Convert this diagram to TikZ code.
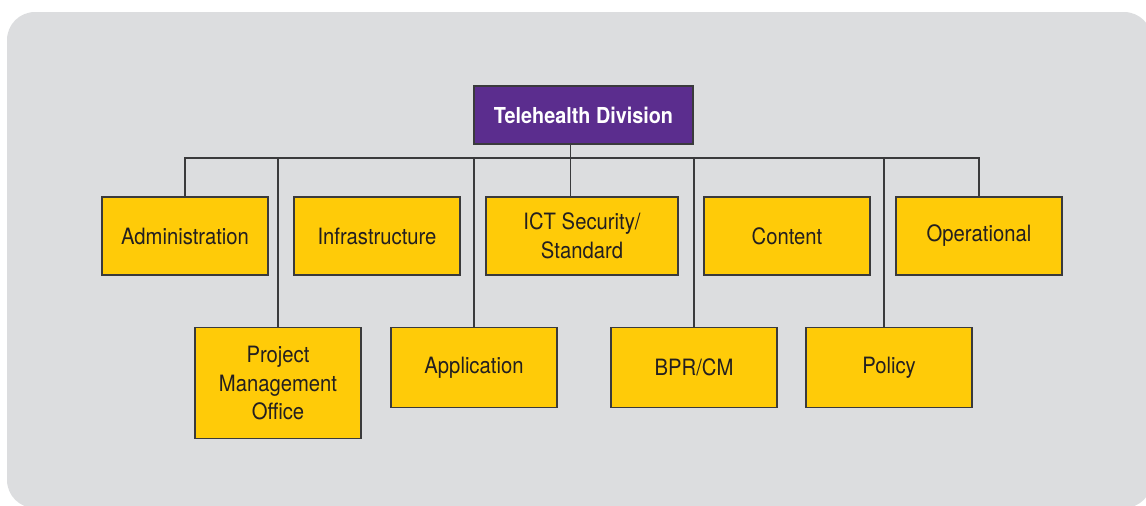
\documentclass[tikz,border=0pt]{standalone}
\usepackage{fontspec}
\setmainfont{TeX Gyre Heros}[FakeStretch=0.9]
\usepackage{tikz}
\usetikzlibrary{positioning}

\definecolor{panelgray}{HTML}{DCDDDF}
\definecolor{unityellow}{HTML}{FFCB08}
\definecolor{headpurple}{HTML}{5B2D8E}
\definecolor{linegray}{HTML}{3A3A3C}
\definecolor{inkdark}{HTML}{231F20}

\begin{document}
\begin{tikzpicture}[
  x=1pt, y=-1pt,
  node distance=24.6pt,
  unitbox/.style={rectangle, draw=linegray, line width=1.4pt, fill=unityellow,
                  minimum width=166pt, minimum height=78pt, inner sep=0pt,
                  align=center, text=inkdark, font=\fontsize{22.5}{28.5}\selectfont},
  headbox/.style={unitbox, fill=headpurple, text=white,
                  minimum width=219pt, minimum height=58pt,
                  font=\fontsize{22}{26}\selectfont\bfseries},
  link/.style={line width=1.4pt, draw=linegray}
]
\useasboundingbox (0,0) rectangle (1146,506);
\fill[panelgray, rounded corners=28pt] (7,12) rectangle (1152,508);

% head of the division
\node[headbox] (head) at (583.5,115) {Telehealth Division};

% first row
\node[unitbox] (admin) at (185,236) {Administration};
\node[unitbox, right=of admin] (infra) {Infrastructure};
\node[unitbox, minimum width=192pt, right=of infra] (ict) {ICT Security/\\Standard};
\node[unitbox, right=of ict] (content) {Content};
\node[unitbox, right=of content] (oper) {Operational};

% second row
\node[unitbox, minimum height=111pt, anchor=north] (pmo) at (278,327) {Project\\Management\\Office};
\node[unitbox, minimum height=80pt, anchor=north] (app) at (474,327) {Application};
\node[unitbox, minimum height=80pt, anchor=north] (bpr) at (694,327) {BPR/CM};
\node[unitbox, minimum height=80pt, anchor=north] (policy) at (889,327) {Policy};

% connectors
\coordinate (bus) at (0,158);
\coordinate (trunk) at ([xshift=-13pt]head.south);
\coordinate (policytop) at ([xshift=-5pt]policy.north);
\draw[link] (trunk) -- (trunk |- ict.north);
\draw[link] (admin.north) |- (bus -| oper.north) -- (oper.north);
\foreach \n in {pmo, app, bpr, policytop}
  \draw[link] (bus -| \n) -- (\n);

\end{tikzpicture}
\end{document}
